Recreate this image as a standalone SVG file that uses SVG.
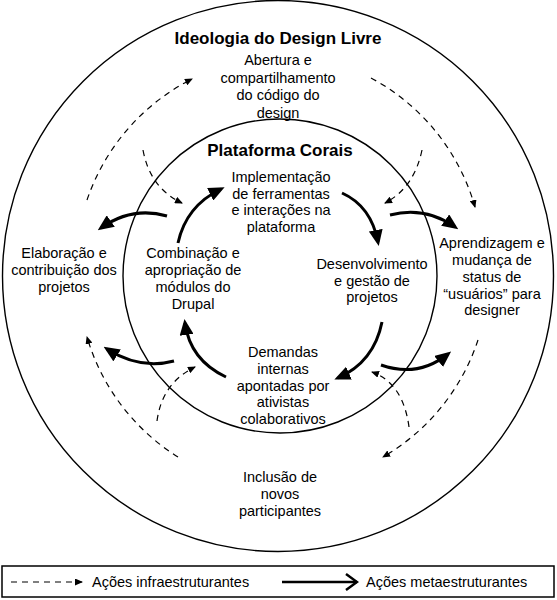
<svg xmlns="http://www.w3.org/2000/svg" width="557" height="600" viewBox="0 0 557 600">
<defs>
<style>
.t{font-family:"Liberation Sans",Arial,sans-serif;font-size:14.5px;fill:#000;text-anchor:middle}
.b{font-family:"Liberation Sans",Arial,sans-serif;font-size:17px;font-weight:bold;fill:#000;text-anchor:middle}
.lg{font-family:"Liberation Sans",Arial,sans-serif;font-size:14.5px;fill:#000}
.ring{fill:none;stroke:#000;stroke-width:1.4}
.dash{fill:none;stroke:#000;stroke-width:1.2;stroke-dasharray:6 5;marker-end:url(#dh)}
.solid{fill:none;stroke:#000;stroke-width:3;marker-end:url(#sh)}
</style>
<marker id="sh" markerUnits="userSpaceOnUse" markerWidth="16" markerHeight="14" viewBox="0 0 16 14" refX="12" refY="7" orient="auto">
<path d="M0,0 L16,7 L0,14 z" fill="#000"/>
</marker>
<marker id="dh" markerUnits="userSpaceOnUse" markerWidth="8" markerHeight="7" viewBox="0 0 8 7" refX="7" refY="3.5" orient="auto">
<path d="M0,0 L8,3.5 L0,7 z" fill="#000"/>
</marker>
<marker id="oh" markerUnits="userSpaceOnUse" markerWidth="14" markerHeight="18" viewBox="0 0 14 18" refX="12" refY="9" orient="auto">
<path d="M1,1 L12,9 L1,17" fill="none" stroke="#000" stroke-width="2.5"/>
</marker>
</defs>
<g id="outer-circle"><circle class="ring" cx="278" cy="276" r="275.5"/></g>
<g id="inner-circle"><circle class="ring" cx="280" cy="276" r="157"/></g>
<g id="connectors">
<path class="dash" d="M87,200 A212,212 0 0 1 192,79"/>
<path class="dash" d="M371,78 A212,212 0 0 1 475,207"/>
<path class="dash" d="M478,340 A212,212 0 0 1 383,457"/>
<path class="dash" d="M178,457 A212,212 0 0 1 87,337"/>
<path class="dash" d="M143,150 Q150,188 182,203"/>
<path class="dash" d="M422,150 Q414,188 385,203"/>
<path class="dash" d="M157,421 Q162,383 195,367"/>
<path class="dash" d="M409,427 Q403,383 372,372"/>
<path class="solid" d="M167,216 Q132,206 101,228"/>
<path class="solid" d="M178,243 Q186,206 221,189"/>
<path class="solid" d="M342,193 Q371,206 378,242"/>
<path class="solid" d="M390,215 Q425,206 455,227"/>
<path class="solid" d="M382,322 Q374,362 338,378"/>
<path class="solid" d="M381,365 Q418,378 448,354"/>
<path class="solid" d="M226,377 Q190,360 185,323"/>
<path class="solid" d="M174,361 Q140,370 107,349"/>
</g>
<g id="ideologia"><text class="b" x="278" y="44">Ideologia do Design Livre</text></g>
<g id="abertura"><text class="t" x="278" y="65">Abertura e</text><text class="t" x="278" y="82.5">compartilhamento</text><text class="t" x="278" y="100">do código do</text><text class="t" x="278" y="117.5">design</text></g>
<g id="plataforma"><text class="b" x="280" y="156">Plataforma Corais</text></g>
<g id="implementacao"><text class="t" x="281" y="182">Implementação</text><text class="t" x="281" y="198.5">de ferramentas</text><text class="t" x="281" y="215">e interações na</text><text class="t" x="281" y="231.5">plataforma</text></g>
<g id="elaboracao"><text class="t" x="64" y="258">Elaboração e</text><text class="t" x="64" y="275">contribuição dos</text><text class="t" x="64" y="292">projetos</text></g>
<g id="combinacao"><text class="t" x="193" y="258">Combinação e</text><text class="t" x="193" y="275">apropriação de</text><text class="t" x="193" y="292">módulos do</text><text class="t" x="193" y="309">Drupal</text></g>
<g id="desenvolvimento"><text class="t" x="372" y="269">Desenvolvimento</text><text class="t" x="372" y="285.5">e gestão de</text><text class="t" x="372" y="302">projetos</text></g>
<g id="aprendizagem"><text class="t" x="492" y="248">Aprendizagem e</text><text class="t" x="492" y="265">mudança de</text><text class="t" x="492" y="282">status de</text><text class="t" x="492" y="298.5">“usuários” para</text><text class="t" x="492" y="315">designer</text></g>
<g id="demandas"><text class="t" x="283" y="357">Demandas</text><text class="t" x="283" y="374">internas</text><text class="t" x="283" y="390.5">apontadas por</text><text class="t" x="283" y="407">ativistas</text><text class="t" x="283" y="423.5">colaborativos</text></g>
<g id="inclusao"><text class="t" x="280" y="482">Inclusão de</text><text class="t" x="280" y="498.5">novos</text><text class="t" x="280" y="515.5">participantes</text></g>
<g id="legend">
<rect x="2" y="566" width="552" height="31" fill="none" stroke="#000" stroke-width="1.5"/>
<path d="M11,582 L82,582" fill="none" stroke="#000" stroke-width="1.2" stroke-dasharray="6 5" marker-end="url(#dh)"/>
<text class="lg" x="92" y="587">Ações infraestruturantes</text>
<path d="M282,582 L357,582" fill="none" stroke="#000" stroke-width="2.5" marker-end="url(#oh)"/>
<text class="lg" x="366" y="587">Ações metaestruturantes</text>
</g>
</svg>
